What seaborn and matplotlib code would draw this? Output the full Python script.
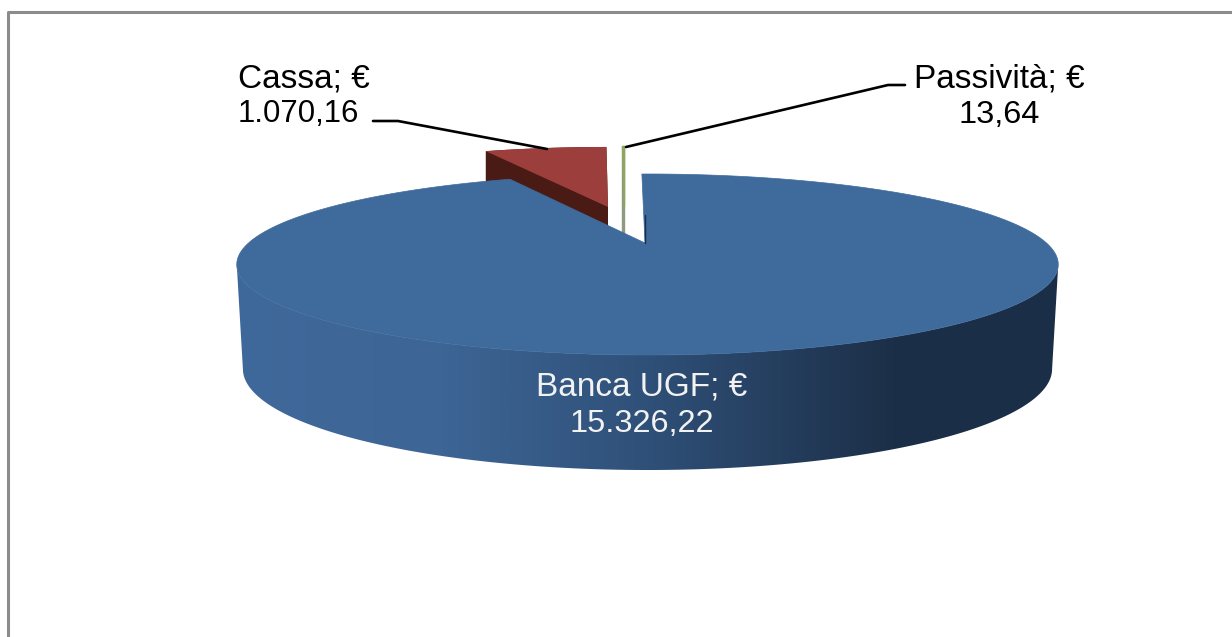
import numpy as np
import matplotlib
matplotlib.use("Agg")
import matplotlib.pyplot as plt
import seaborn as sns
from matplotlib.colors import LinearSegmentedColormap
from matplotlib.patches import Polygon

# dati
categorie = ['Banca UGF', 'Cassa', 'Passività']
valori = [15326.22, 1070.16, 13.64]
importi = ['15.326,22', '1.070,16', '13,64']
colori_top = ['#3F6A9C', '#9C3F3C', '#8FA55C']
colori_lato = ['#1B2E47', '#4A1A14', '#8E9A80']

# prospettiva del disco (pixel)
K = 0.2376
CX, CY = 647.5, 243
A, B = 399, 85.4
APICE = (645, 243)


def proietta(theta_deg, r=1.0, cx=CX, cy=CY, a=A, b=B):
    t = np.radians(theta_deg)
    x, y = r * np.cos(t), r * np.sin(t)
    w = 1 + K * y
    return np.column_stack([cx + a * x / w, cy - b * y / w])


def fetta(theta1, theta2, apice=None, **kw):
    th = np.linspace(theta1, theta2, 200)
    if apice is None:
        apice = proietta(np.array([0.0]), r=0, **kw)
    return np.vstack([apice, proietta(th, **kw)])


sns.set_theme(style="white")
plt.rcParams['font.family'] = ['Liberation Sans', 'DejaVu Sans']

fig = plt.figure(figsize=(12.32, 6.37), dpi=100)
ax = fig.add_axes([0, 0, 1, 1])

# la torta vera: servono gli angoli, poi ogni fetta viene ridisegnata in prospettiva
wedges, _ = ax.pie(valori, startangle=90, counterclock=False, colors=colori_top)
angoli = [(w.theta1, w.theta2) for w in wedges]
for w in wedges:
    w.remove()
ax.set_aspect('auto')

# fette staccate dietro
staccate = {1: dict(cx=608, cy=207, a=A * 0.925, b=B * 0.87),
            2: dict(cx=624, cy=206, a=A * 0.925, b=B * 0.87)}
for i, kw in staccate.items():
    t1, t2 = angoli[i]
    top = fetta(t1, t2, **kw)
    ordine = np.vstack([top, top[::-1] + [0, 95]])
    lw = 1.0 if i == 2 else 0
    ax.add_patch(Polygon(ordine, closed=True, fc=colori_lato[i], ec=colori_lato[i], lw=lw, zorder=1))
    ax.add_patch(Polygon(top, closed=True, fc=colori_top[i], ec=colori_top[i], lw=lw, zorder=2))

# lato della fetta grande, con sfumatura
t_estremo = np.degrees(np.arcsin(K))
th = np.linspace(180 + t_estremo, 360 - t_estremo, 300)
bordo_alto = proietta(th)
bordo_basso = proietta(th, cx=647.5, cy=345, a=393, b=95.3)
lato = Polygon(np.vstack([bordo_alto, bordo_basso[::-1]]), closed=True, fc='none', ec='none', transform=ax.transData)
ax.add_patch(lato)
sfumatura = LinearSegmentedColormap.from_list('lato', [
    (0.0, '#40699B'), (0.25, '#3D6595'), (0.5, '#2F5078'), (0.8, '#1C2F48'), (1.0, '#1B2E47')])
img = ax.imshow(np.linspace(0, 1, 512).reshape(1, -1), cmap=sfumatura, aspect='auto',
                extent=(236, 1059, 480, 250), zorder=3)
img.set_clip_path(lato)

# faccia superiore della fetta grande (ruotata di un grado come nell'originale)
t1, t2 = angoli[0]
ax.add_patch(Polygon(fetta(t1 + 1, t2 + 1, apice=APICE), closed=True, fc=colori_top[0], ec=colori_top[0], lw=0.5, zorder=4))
taglio_alto = proietta(np.array([t2 + 1]), r=0.35)
ax.plot([APICE[0], APICE[0]], [APICE[1], taglio_alto[0, 1]], color='#1B2E47', lw=1, zorder=5)

ax.set_xlim(0, 1232)
ax.set_ylim(637, 0)
ax.axis('off')

# cornice (solo sinistra e alto arrivano nell'immagine)
ax.plot([8, 8, 1240], [650, 12, 12], color='#8C8C8C', lw=2.2, zorder=6, clip_on=False)

# linee guida
ax.plot([373, 398, 547], [121, 121, 149], color='black', lw=1.9, zorder=7)
ax.plot([905, 888, 626], [85, 85, 147], color='black', lw=1.9, zorder=7)

# etichette
f1, f2 = 24.0, 23.4
ax.text(238, 88, f'{categorie[1]}; €', fontsize=f1, color='black', ha='left', va='baseline', zorder=8)
ax.text(238, 122, importi[1], fontsize=22.4, color='black', ha='left', va='baseline', zorder=8)
ax.text(999.5, 88, f'{categorie[2]}; €', fontsize=f1, color='black', ha='center', va='baseline', zorder=8)
ax.text(999.5, 123, importi[2], fontsize=f2, color='black', ha='center', va='baseline', zorder=8)
ax.text(642, 396, f'{categorie[0]}; €', fontsize=f1, color='#F2F2F2', ha='center', va='baseline', zorder=8)
ax.text(642, 432, importi[0], fontsize=f2, color='#F2F2F2', ha='center', va='baseline', zorder=8)

fig.savefig('out.png', dpi=100, facecolor='white')
